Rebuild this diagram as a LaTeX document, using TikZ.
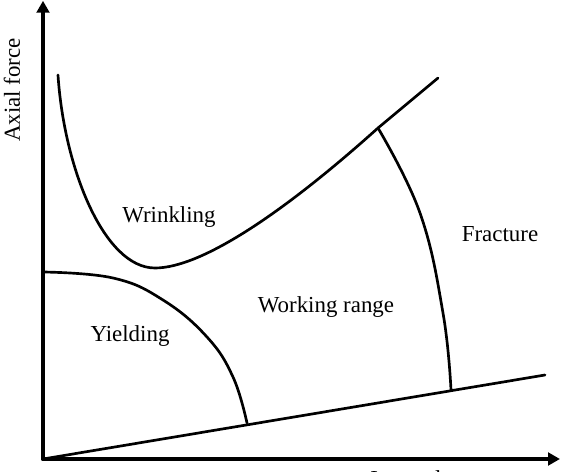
\documentclass[tikz,border=0pt]{standalone}
\usepackage{fontspec}
\setmainfont{Liberation Serif}
\usetikzlibrary{arrows.meta}

\begin{document}
\begin{tikzpicture}[>={Triangle[length=8.5pt,width=9pt]},line cap=round,line join=round,
 axis/.style={line width=2.8pt},
 limit/.style={line width=1.9pt},
 region/.style={font=\fontsize{16.3}{19.6}\selectfont,anchor=base,inner sep=0pt}]
% Okno procesu: siła osiowa i ciśnienie wewnętrzne.
\useasboundingbox (0,0) rectangle (14.05,11.8);
\coordinate (O) at (1.075,.325);
\coordinate (Xend) at (14.0,.325);
\coordinate (Yend) at (1.075,11.78);
\coordinate (W0) at (1.45,9.925);
\coordinate (Wmin) at (3.875,5.1);
\coordinate (W1) at (10.95,9.85);
\coordinate (F0) at (9.45,8.6);
\coordinate (F1) at (11.275,2.05);
\coordinate (Y0) at (1.075,5.0);
\coordinate (Y1) at (6.175,1.225);
\coordinate (L1) at (13.625,2.425);
\draw[->,axis] (O)--(Xend);
\draw[->,axis] (O)--(Yend);
\draw[limit] (O)--(L1);
\draw[limit] (W0) .. controls (1.6,7.6) and (2.6,5.1) .. (Wmin)
 .. controls (5.0,5.1) and (7.0,6.4) .. (F0) -- (W1);
\draw[limit] plot[smooth,tension=.7] coordinates {(F0) (10.5,6.475) (11.075,3.975) (F1)};
\draw[limit] plot[smooth,tension=.7] coordinates {(Y0) (2.825,4.85) (4.075,4.3)
 (5.175,3.375) (5.825,2.375) (Y1)};
\node[region] (wrinkling) at (4.225,6.225) {Wrinkling};
\node[region] (yielding) at (3.25,3.25) {Yielding};
\node[region] (working) at (8.15,3.975) {Working range};
\node[region] (fracture) at (12.5,5.75) {Fracture};
\node[region,rotate=90] (force) at (.5,9.55) {Axial force};
\node[region,anchor=base west] (pressure) at (9.25,-.375) {Internal pressure};
\end{tikzpicture}
\end{document}
